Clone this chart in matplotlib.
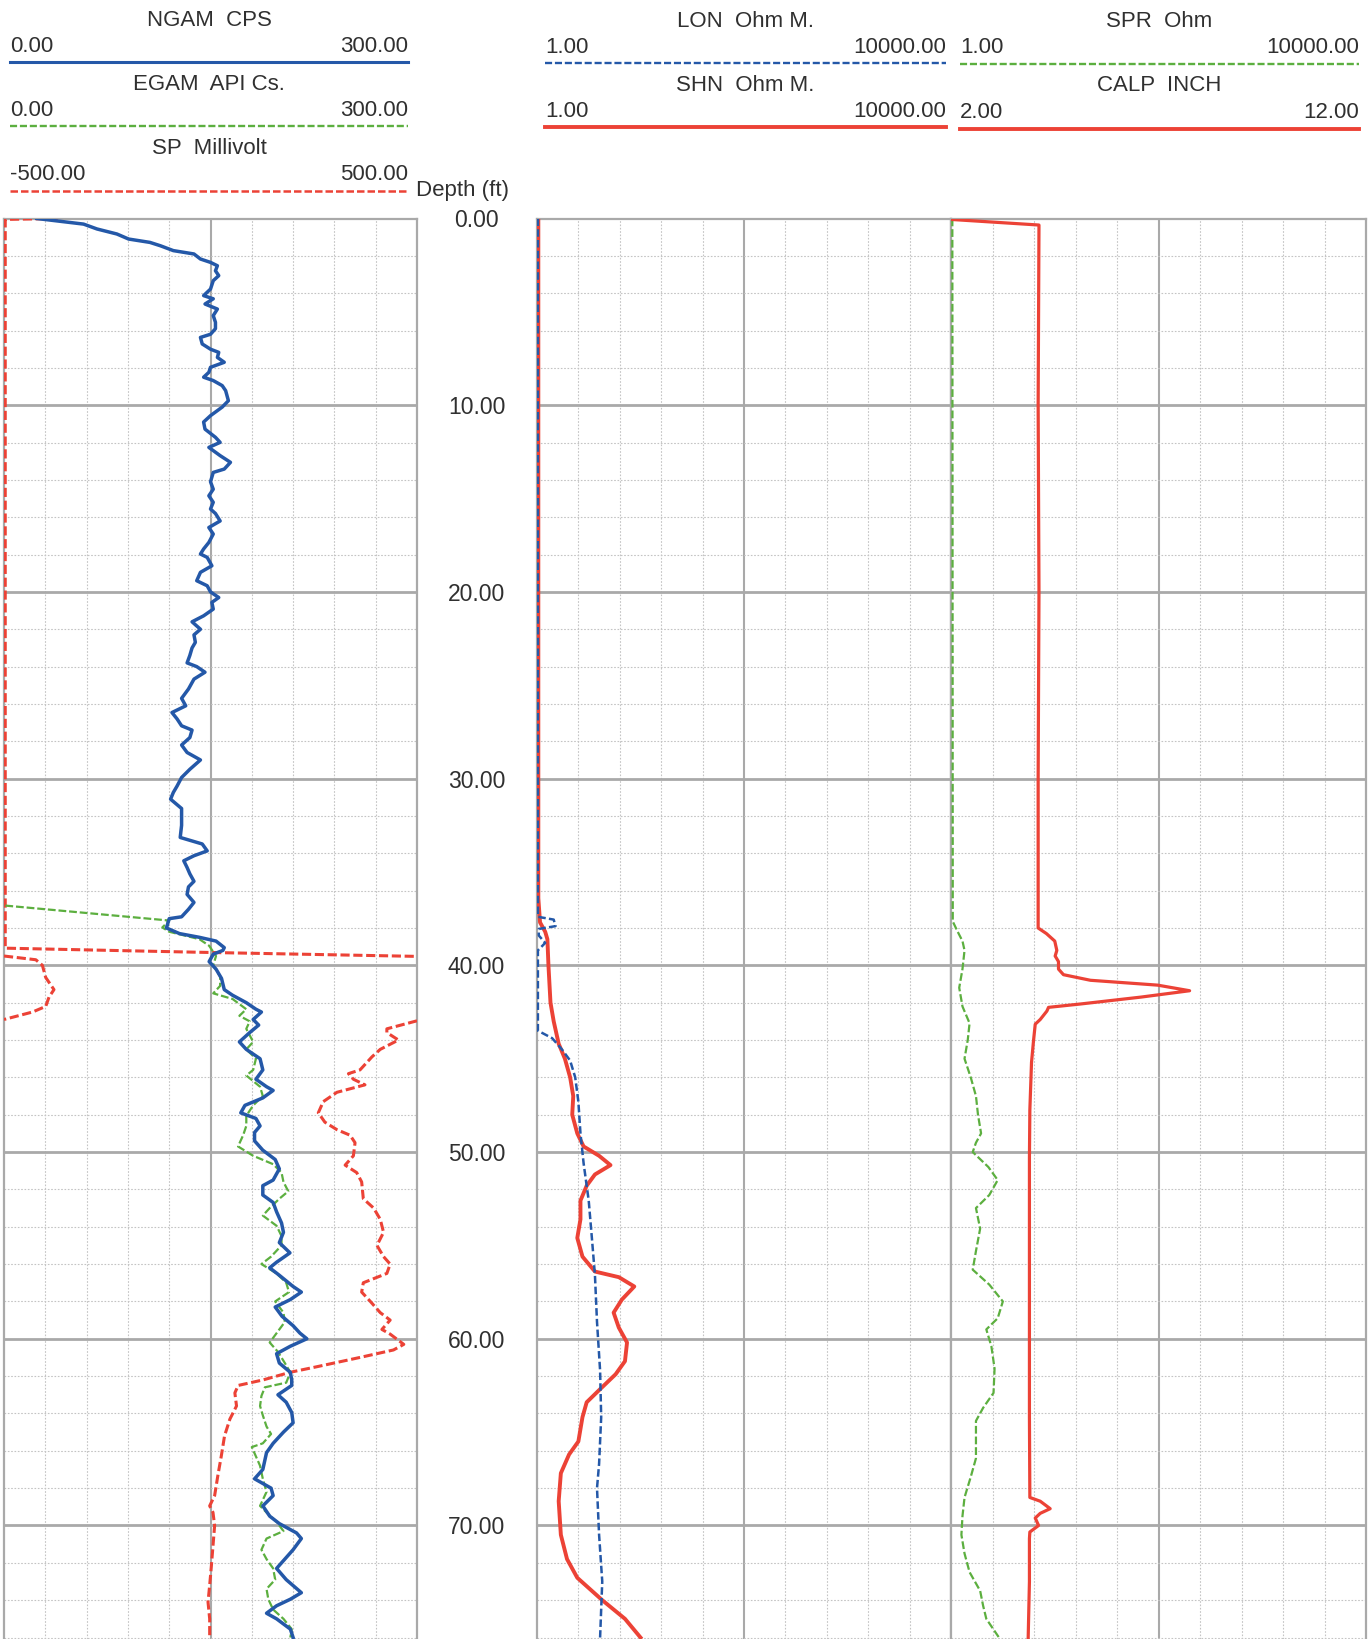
import numpy as np
import matplotlib
matplotlib.use("Agg")
import matplotlib.pyplot as plt
import matplotlib.transforms as mtransforms
from matplotlib.lines import Line2D

plt.rcParams['font.family'] = ['Liberation Sans', 'DejaVu Sans']

# ---- data (depth ft, value) ----
ngam = [(0, 23.8), (0.3, 57.8), (0.56, 67.5), (0.83, 82), (1.1, 90.5), (1.28, 106), (1.46, 113.6),
        (1.72, 123), (1.9, 138), (2.17, 142.7), (2.35, 150), (2.53, 155), (2.8, 153.6), (3.06, 156),
        (3.33, 152), (3.78, 150), (4.13, 145), (4.3, 152), (4.58, 146), (4.85, 155), (5.2, 152),
        (5.56, 153.6), (5.9, 153.6), (6.2, 150), (6.37, 142.7), (6.72, 144), (7.0, 150), (7.17, 156),
        (7.44, 155), (7.7, 160), (7.97, 150), (8.24, 148.8), (8.5, 145), (8.68, 152), (8.95, 158.5),
        (9.22, 161), (9.76, 163), (10.1, 158.5), (10.56, 150), (10.9, 145), (11.28, 146), (11.72, 153.6),
        (11.99, 157), (12.26, 148.8), (12.7, 157), (13.06, 164.5), (13.42, 160), (13.6, 152), (14.1, 150),
        (14.5, 152), (14.85, 148.8), (15.2, 152), (15.56, 150), (15.8, 153.6), (16.2, 157), (16.55, 148.8),
        (16.9, 152), (17.35, 148.8), (17.7, 145), (17.97, 142.7), (18.15, 147.6), (18.6, 151),
        (18.95, 142.7), (19.4, 140), (19.67, 147.6), (20.0, 150), (20.3, 156), (20.56, 151), (20.92, 152),
        (21.28, 145), (21.6, 136.6), (22.0, 142.7), (22.3, 138), (22.7, 139), (23.0, 136.6), (23.4, 135),
        (23.8, 133), (24.0, 140), (24.3, 146), (24.67, 138), (25.2, 134), (25.7, 129), (26.1, 132),
        (26.46, 122), (26.8, 125.7), (27.17, 129), (27.4, 136.6), (27.8, 135), (28.2, 129), (28.6, 133),
        (29.0, 142.7), (29.5, 135), (29.94, 129), (30.4, 125.7), (30.74, 123), (31.1, 121), (31.6, 129),
        (32.0, 129), (32.5, 129), (33.15, 128), (33.5, 144), (33.87, 147.6), (34.13, 138), (34.4, 130.6),
        (34.76, 133), (35.1, 135), (35.5, 138), (35.8, 134), (36.2, 133), (36.63, 138), (37.0, 134),
        (37.4, 129), (37.5, 120), (38.0, 118), (38.3, 127.5), (38.5, 142), (38.7, 154), (39.05, 160),
        (39.2, 159), (39.4, 152), (39.8, 149), (40.2, 154), (40.7, 158), (41.3, 160), (41.6, 166),
        (42.0, 176), (42.35, 183), (42.5, 187), (42.9, 181), (43.2, 185), (43.6, 178.5), (44.1, 171),
        (44.5, 176), (45.0, 186), (45.6, 188), (46.1, 183), (46.5, 190.7), (46.7, 195.5), (47.1, 188),
        (47.5, 175), (47.9, 172), (48.2, 183), (48.6, 186), (48.95, 182), (49.4, 182), (49.9, 188),
        (50.4, 197), (50.9, 200), (51.5, 195.5), (51.8, 188), (52.3, 188), (52.7, 195.5), (53.2, 198),
        (53.8, 201.6), (54.3, 203), (54.85, 200), (55.4, 207.7), (55.9, 198), (56.2, 193), (56.6, 200),
        (57.2, 210), (57.5, 216), (57.9, 208), (58.3, 197), (58.8, 202), (59.3, 210), (59.7, 215),
        (60.0, 220), (60.4, 208), (60.8, 198), (61.3, 200), (61.8, 208), (62.2, 209), (62.5, 209),
        (63.0, 199), (63.4, 205), (63.95, 209), (64.5, 210), (65.0, 203), (65.6, 195.5), (66.1, 190.7),
        (66.5, 189.5), (67.0, 188), (67.5, 182), (68.0, 194), (68.4, 195.5), (68.95, 188), (69.5, 193),
        (69.9, 200), (70.4, 212.5), (70.7, 216), (71.3, 210), (71.8, 204), (72.3, 198), (72.9, 205),
        (73.6, 216), (73.95, 208), (74.3, 198), (74.7, 190.7), (75.0, 198), (75.55, 208), (76.0, 210)]

egam = [(36.8, 1), (37.6, 120), (37.97, 115), (38.2, 120), (38.6, 142), (38.95, 149), (39.5, 154),
        (40.0, 152), (40.6, 157), (41.1, 157), (41.5, 152), (41.8, 166), (42.35, 176), (42.7, 171),
        (43.0, 178.5), (43.4, 176), (44.1, 181), (44.5, 176), (45.0, 183), (45.6, 181), (45.9, 176),
        (46.5, 186), (47.0, 188), (47.5, 181), (48.06, 176), (48.6, 176), (49.1, 173.7), (49.7, 170),
        (50.2, 181), (50.65, 195.5), (51.1, 201.6), (51.6, 203), (52.1, 206.5), (52.5, 200), (53.0, 193),
        (53.4, 188), (53.95, 198), (54.5, 201.6), (55.0, 201.6), (55.6, 194), (56.0, 187), (56.5, 198),
        (57.0, 205), (57.5, 207), (58.0, 197), (58.6, 203), (59.1, 204), (59.7, 198), (60.2, 193),
        (60.7, 199), (61.3, 204), (61.8, 208), (62.35, 205), (62.6, 189.5), (63.06, 187), (63.6, 186),
        (64.1, 188), (64.7, 190.7), (65.1, 194), (65.6, 188), (65.8, 180), (66.3, 183), (66.8, 186),
        (67.5, 188), (68.2, 190.7), (68.95, 186), (69.3, 190.7), (69.8, 198), (70.3, 203), (70.7, 190.7),
        (71.3, 187), (71.8, 190.7), (72.3, 195.5), (72.9, 197), (73.4, 190.7), (73.95, 192), (74.5, 195.5),
        (75.0, 203), (75.55, 209), (76.0, 208)]

# SP wraps around the track edges, segments split by nan
sp = [(0, -370), (0.05, -497), (39.08, -497), (39.3, -26), (39.52, 500), (np.nan, np.nan),
      (39.5, -500), (39.7, -423), (40.0, -407), (40.65, -399), (41.3, -379), (41.7, -391),
      (42.2, -399), (42.5, -431), (42.9, -500), (np.nan, np.nan),
      (42.97, 500), (43.4, 427), (43.6, 427), (44.0, 455), (44.5, 411), (44.9, 391), (45.6, 362),
      (45.8, 334), (46.1, 346), (46.4, 374), (46.8, 306), (47.3, 273), (47.9, 261), (48.4, 277),
      (48.8, 306), (49.1, 338), (49.5, 350), (50.2, 346), (50.7, 326), (51.1, 354), (51.6, 366),
      (52.5, 370), (53.0, 395), (53.6, 411), (54.3, 419), (55.0, 403), (55.6, 419), (56.0, 435),
      (56.5, 427), (57.0, 370), (57.5, 366), (58.0, 387), (58.6, 411), (59.0, 435), (59.5, 415),
      (59.75, 435), (60.3, 468), (60.6, 443), (61.0, 362), (61.5, 257), (61.8, 192), (62.2, 128),
      (62.5, 67), (62.9, 59), (63.6, 63), (64.3, 47), (65.2, 34), (66.3, 26), (67.3, 18), (68.4, 10),
      (68.95, -2), (69.3, 6), (70.0, 10), (71.1, 6), (72.2, 2), (73.2, -2), (74.1, -6), (75.0, -2),
      (76.0, -2)]

lon = [(0, 1.02), (37.4, 1.02), (37.55, 1.45), (37.9, 1.51), (38.05, 1.04), (38.4, 1.04), (38.8, 1.2),
       (39.2, 1.02), (43.5, 1.02), (43.9, 1.4), (44.5, 1.74), (45.1, 2.09), (46.0, 2.34), (47.3, 2.51),
       (49.0, 2.63), (50.6, 2.82), (52.6, 3.16), (54.6, 3.39), (56.6, 3.63), (59.1, 3.8), (61.7, 4.07),
       (64.2, 4.17), (66.7, 3.98), (68.0, 3.8), (70.5, 3.98), (73.0, 4.27), (76.0, 4.07)]

shn = [(0, 1.03), (36.4, 1.03), (37.7, 1.07), (38.2, 1.2), (38.6, 1.26), (40.0, 1.29), (42.0, 1.35),
       (43.0, 1.45), (44.2, 1.62), (45.0, 1.86), (46.0, 2.09), (47.0, 2.24), (48.0, 2.19), (49.0, 2.45),
       (49.7, 2.82), (50.2, 3.98), (50.7, 5.13), (51.2, 3.63), (51.8, 3.02), (52.6, 2.63), (53.6, 2.63),
       (54.6, 2.45), (55.6, 2.75), (56.4, 3.63), (56.7, 6.17), (57.2, 8.71), (57.9, 6.61), (58.6, 5.5),
       (59.4, 6.17), (60.2, 7.41), (61.2, 7.08), (61.9, 5.75), (62.7, 4.07), (63.4, 3.02), (64.2, 2.75),
       (65.5, 2.51), (66.2, 2.04), (67.2, 1.7), (68.7, 1.62), (70.5, 1.7), (71.8, 1.95), (72.8, 2.45),
       (74.0, 4.27), (75.0, 7.08), (76.0, 10.0)]

spr = [(0, 1.03), (37.65, 1.04), (38.2, 1.16), (38.7, 1.29), (39.2, 1.35), (40.2, 1.29), (41.2, 1.2),
       (42.2, 1.29), (43.1, 1.51), (44.0, 1.45), (45.0, 1.35), (46.0, 1.55), (47.0, 1.74), (48.0, 1.82),
       (49.0, 1.95), (49.5, 1.74), (50.0, 1.62), (50.8, 2.29), (51.5, 2.82), (52.3, 2.34), (53.0, 1.74),
       (54.1, 1.91), (55.3, 1.74), (56.3, 1.62), (57.1, 2.34), (58.0, 3.16), (58.9, 2.82), (59.5, 2.19),
       (60.4, 2.45), (61.6, 2.63), (62.9, 2.57), (63.7, 2.04), (64.4, 1.74), (65.4, 1.74), (66.4, 1.74),
       (67.4, 1.55), (68.5, 1.35), (69.5, 1.29), (70.5, 1.26), (71.5, 1.35), (72.5, 1.51), (73.5, 1.91),
       (74.3, 2.04), (75.0, 2.19), (76.0, 2.9)]

calp = [(0.05, 2.0), (0.35, 4.12), (10, 4.1), (20, 4.12), (30, 4.1), (38.0, 4.1), (38.3, 4.3),
        (38.7, 4.5), (39.2, 4.55), (39.5, 4.51), (39.8, 4.59), (40.2, 4.59), (40.5, 4.71), (40.8, 5.36),
        (41.06, 6.98), (41.36, 7.75), (41.7, 6.58), (42.07, 5.12), (42.25, 4.35), (42.45, 4.31),
        (42.9, 4.15), (43.15, 4.03), (44.0, 3.99), (45.2, 3.94), (47.75, 3.9), (50.3, 3.89), (55.3, 3.89),
        (59.1, 3.89), (64.2, 3.89), (68.5, 3.9), (68.7, 4.15), (69.1, 4.39), (69.35, 4.15), (69.6, 4.03),
        (70.0, 4.11), (70.35, 3.9), (70.7, 3.89), (73.0, 3.89), (76.0, 3.86)]

depth_ticks = [0, 10, 20, 30, 40, 50, 60, 70]

BLUE = '#2458a8'
GREEN = '#5caf3f'
RED = '#ec4236'
GRID_MAJOR = '#a9a9a9'
GRID_MINOR = '#c4c4c4'
TXT = '#303030'

W, H = 1372, 1640
TOP = 219.5
DEPTH_MAX = 76.08

fig = plt.figure(figsize=(W / 100, H / 100), dpi=100)


def fx(x):
    return x / W


def fy(y):
    return 1 - y / H


def make_track(x0, x1):
    ax = fig.add_axes([fx(x0), 0, (x1 - x0) / W, fy(TOP)])
    ax.set_xlim(0, 10)
    ax.set_ylim(DEPTH_MAX, 0)
    ax.set_xticks([])
    ax.set_yticks([])
    for k in range(1, 10):
        if k == 5:
            ax.axvline(k, color=GRID_MAJOR, lw=1.5, zorder=1)
        else:
            ax.axvline(k, color=GRID_MINOR, lw=0.8, ls=(0, (1.5, 1.5)), zorder=1)
    for d in range(2, 77, 2):
        if d % 10 == 0:
            ax.axhline(d, color=GRID_MAJOR, lw=2.0, zorder=1)
        else:
            ax.axhline(d, color=GRID_MINOR, lw=0.8, ls=(0, (1.5, 1.5)), zorder=1)
    for s in ['left', 'right', 'top']:
        ax.spines[s].set_color(GRID_MAJOR)
        ax.spines[s].set_linewidth(1.6)
    ax.spines['bottom'].set_visible(False)
    return ax


def curve_axis(base, lo, hi, log=False):
    a = base.twiny()
    if log:
        a.set_xscale('log')
    a.set_xlim(lo, hi)
    a.set_ylim(DEPTH_MAX, 0)
    a.axis('off')
    return a


def draw(a, pts, **kw):
    arr = np.array(pts, dtype=float)
    a.plot(arr[:, 1], arr[:, 0], **kw)


t1 = make_track(4, 417)
t2 = make_track(537, 951)
t3 = make_track(951, 1366)

a = curve_axis(t1, -500, 500)
draw(a, sp, color=RED, lw=2.2, dashes=(3, 1.2))
a = curve_axis(t1, 0, 300)
draw(a, egam, color=GREEN, lw=1.6, dashes=(3.5, 1.3))
a = curve_axis(t1, 0, 300)
draw(a, ngam, color=BLUE, lw=2.5)

a = curve_axis(t2, 1, 10000, log=True)
draw(a, shn, color=RED, lw=2.8)
a = curve_axis(t2, 1, 10000, log=True)
draw(a, lon, color=BLUE, lw=1.8, dashes=(3, 1.3))

a = curve_axis(t3, 1, 10000, log=True)
draw(a, spr, color=GREEN, lw=1.6, dashes=(3.5, 1.3))
a = curve_axis(t3, 2, 12)
draw(a, calp, color=RED, lw=2.3)

# depth column
dax = fig.add_axes([fx(417), 0, (537 - 417) / W, fy(TOP)], sharey=t1)
dax.axis('off')
trans = mtransforms.blended_transform_factory(dax.transAxes, dax.transData)
trans = mtransforms.offset_copy(trans, fig=fig, x=0, y=-7.9 * 0.72, units='points')
for d in depth_ticks:
    dax.text(0.496, d, f"{d:.2f}", transform=trans, ha='center', va='baseline',
             fontsize=16.5, color=TXT)

# headers
FS = 16


def header(x0, x1, title, lo, hi, y_title, y_vals, y_line, color, style, lw):
    fig.text(fx((x0 + x1) / 2), fy(y_title), title, ha='center', va='baseline', fontsize=FS, color=TXT)
    fig.text(fx(x0), fy(y_vals), lo, ha='left', va='baseline', fontsize=FS, color=TXT)
    fig.text(fx(x1), fy(y_vals), hi, ha='right', va='baseline', fontsize=FS, color=TXT)
    ln = Line2D([fx(x0), fx(x1)], [fy(y_line), fy(y_line)], transform=fig.transFigure,
                color=color, lw=lw)
    if style == 'dash':
        ln.set_dashes((3, 1.2))
    fig.add_artist(ln)


header(10, 408, "NGAM  CPS", "0.00", "300.00", 25.7, 51.9, 62.8, BLUE, 'solid', 2.2)
header(10, 408, "EGAM  API Cs.", "0.00", "300.00", 89.6, 115.8, 126.7, GREEN, 'dash', 1.7)
header(10, 408, "SP  Millivolt", "-500.00", "500.00", 153.5, 179.7, 191.7, RED, 'dash', 1.8)

header(545, 946, "LON  Ohm M.", "1.00", "10000.00", 26.7, 52.9, 63.9, BLUE, 'dash', 1.7)
header(545, 946, "SHN  Ohm M.", "1.00", "10000.00", 91.1, 116.8, 128.3, RED, 'solid', 2.8)
header(960, 1359, "SPR  Ohm", "1.00", "10000.00", 26.7, 52.9, 64.9, GREEN, 'dash', 1.7)
header(960, 1359, "CALP  INCH", "2.00", "12.00", 91.1, 117.5, 129.9, RED, 'solid', 2.8)

fig.text(fx(463), fy(196), "Depth (ft)", ha='center', va='baseline', fontsize=FS, color=TXT)

fig.savefig("out.png", dpi=100, facecolor='white')
